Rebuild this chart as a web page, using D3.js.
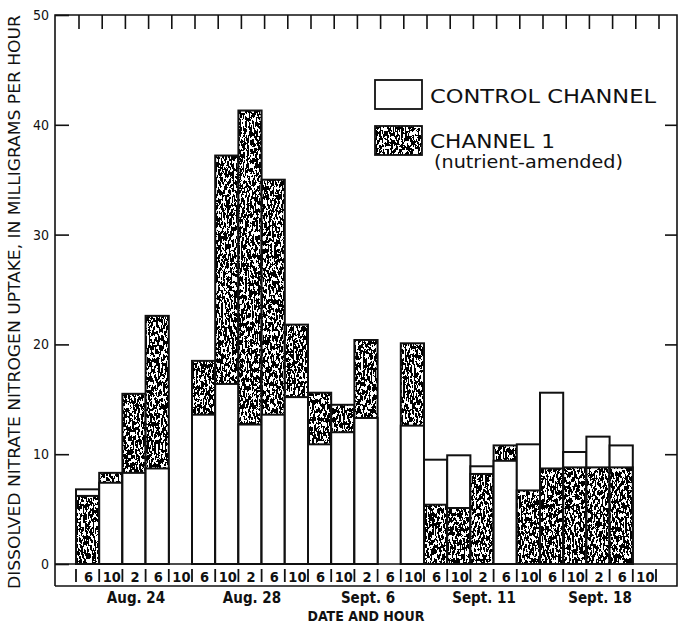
<!DOCTYPE html>
<html>
<head>
<meta charset="utf-8">
<script src="https://cdn.jsdelivr.net/npm/d3@7"></script>
<style>
  html, body { margin: 0; padding: 0; background: #fff; }
  svg { display: block; }
  .cond { font-family: 'Liberation Sans Narrow', 'DejaVu Sans Condensed', 'Arial Narrow', sans-serif; }
  .leg { font-family: 'DejaVu Sans', 'Noto Sans', sans-serif; }
</style>
</head>
<body>
<svg id="chart" width="684" height="629"></svg>
<script>
// Sampling slots: five per date (6 a.m., 10 a.m., 2 p.m., 6 p.m., 10 p.m.)
const hourLabels = ["6","10","2","6","10", "6","10","2","6","10", "6","10","2","6","10",
                    "6","10","2","6","10", "6","10","2","6","10"];
const dateLabels = ["Aug. 24", "Aug. 28", "Sept. 6", "Sept. 11", "Sept. 18"];
// Dissolved nitrate nitrogen uptake, mg/h (null = no sample)
const controlChannel = [6.8, 7.4, 8.3, 8.7, null,
                        13.6, 16.4, 12.7, 13.6, 15.2,
                        10.9, 12.0, 13.3, null, 12.6,
                        9.5, 9.9, 8.9, 9.4, 10.9,
                        15.6, 10.2, 11.6, 10.8, null];
const channel1 =       [6.2, 8.3, 15.5, 22.6, null,
                        18.5, 37.2, 41.3, 35.0, 21.8,
                        15.6, 14.5, 20.4, null, 20.1,
                        5.4, 5.1, 8.2, 10.8, 6.7,
                        8.7, 8.8, 8.8, 8.8, null];
const yTicks = [0, 10, 20, 30, 40, 50];

const svg = d3.select("#chart");
const frame = { left: 55, right: 677, top: 15, base: 564, bottom: 586 };

const x = d3.scaleBand().domain(d3.range(hourLabels.length)).range([76, 656]).padding(0);
const y = d3.scaleLinear().domain([0, 50]).range([frame.base, frame.top]);

// Stipple texture for the nutrient-amended channel
const defs = svg.append("defs");
const f = defs.append("filter").attr("id", "grain")
  .attr("x", 0).attr("y", 0).attr("width", 1).attr("height", 1)
  .attr("color-interpolation-filters", "sRGB");
f.append("feTurbulence").attr("type", "fractalNoise").attr("baseFrequency", "0.55 0.22")
  .attr("numOctaves", 3).attr("seed", 11).attr("result", "noise");
f.append("feColorMatrix").attr("in", "noise").attr("type", "matrix")
  .attr("values", "0 0 0 0 0  0 0 0 0 0  0 0 0 0 0  4 0 0 0 -1.42").attr("result", "a");
f.append("feComponentTransfer").attr("in", "a").attr("result", "mask")
  .append("feFuncA").attr("type", "discrete").attr("tableValues", "0 1");
f.append("feComposite").attr("in", "mask").attr("in2", "SourceGraphic").attr("operator", "in");

function drawBar(g, x0, w, v, stippled) {
  const top = y(v), h = frame.base - top;
  g.append("rect").attr("x", x0).attr("y", top).attr("width", w).attr("height", h)
    .attr("fill", "#fff");
  if (stippled) {
    g.append("rect").attr("x", x0).attr("y", top).attr("width", w).attr("height", h)
      .attr("fill", "#111").attr("filter", "url(#grain)");
  }
  g.append("rect").attr("x", x0).attr("y", top).attr("width", w).attr("height", h)
    .attr("fill", "none").attr("stroke", "#111").attr("stroke-width", 2);
}

// Bars: the taller series is drawn behind, the shorter one in front
const bars = svg.append("g");
hourLabels.forEach((_, i) => {
  const c = controlChannel[i], n = channel1[i];
  if (c == null && n == null) return;
  const g = bars.append("g");
  const pair = [{ v: c, s: false }, { v: n, s: true }].filter(d => d.v != null)
    .sort((a, b) => b.v - a.v);
  pair.forEach(d => drawBar(g, x(i), x.bandwidth(), d.v, d.s));
});

// Frame
const lines = svg.append("g").attr("stroke", "#111").attr("stroke-width", 1.6).attr("fill", "none");
lines.append("path").attr("d",
  `M${frame.left},${frame.bottom}V${frame.top}H${frame.right}V${frame.bottom}H${frame.left}`);
lines.append("line").attr("x1", frame.left).attr("x2", frame.right)
  .attr("y1", frame.base).attr("y2", frame.base);

// Left value axis
const yAxis = svg.append("g").attr("class", "cond")
  .attr("transform", `translate(${frame.left},0)`)
  .call(d3.axisLeft(y).tickValues(yTicks).tickSize(-14).tickPadding(6).tickFormat(d3.format("d")));
yAxis.select(".domain").remove();
yAxis.selectAll(".tick line").attr("stroke", "#111").attr("stroke-width", 1.6);
yAxis.selectAll(".tick text").attr("font-size", 14).attr("fill", "#111")
  .attr("font-family", "'Liberation Sans Narrow', 'DejaVu Sans Condensed', sans-serif");

// Right inward ticks
const yAxisR = svg.append("g")
  .attr("transform", `translate(${frame.right},0)`)
  .call(d3.axisRight(y).tickValues(yTicks.slice(1, -1)).tickSize(-12).tickFormat(""));
yAxisR.select(".domain").remove();
yAxisR.selectAll(".tick line").attr("stroke", "#111").attr("stroke-width", 1.6);

// Top inward ticks at slot boundaries
const bounds = d3.range(hourLabels.length + 1).map(i => x.range()[0] + i * x.step());
svg.append("g").selectAll("line").data(bounds).join("line")
  .attr("x1", d => d + 3).attr("x2", d => d + 3)
  .attr("y1", frame.top).attr("y2", frame.top + 14)
  .attr("stroke", "#111").attr("stroke-width", 1.6);

// Hour row: separators and labels
svg.append("g").selectAll("line").data(bounds).join("line")
  .attr("x1", d => d).attr("x2", d => d)
  .attr("y1", frame.base + 5).attr("y2", frame.base + 18)
  .attr("stroke", "#111").attr("stroke-width", 1.8);
svg.append("g").attr("class", "cond").selectAll("text").data(hourLabels).join("text")
  .attr("x", (d, i) => x(i) + x.bandwidth() / 2 + 1)
  .attr("y", 582)
  .attr("text-anchor", "middle").attr("font-size", 14.5).attr("font-weight", "bold")
  .attr("fill", "#111").text(d => d);

// Date labels, centred on the 2 p.m. slot of each group
svg.append("g").attr("class", "cond").selectAll("text").data(dateLabels).join("text")
  .attr("x", (d, i) => x(i * 5 + 2) + x.bandwidth() / 2 + 2)
  .attr("y", 603)
  .attr("text-anchor", "middle").attr("font-size", 15).attr("font-weight", "bold")
  .attr("fill", "#111").text(d => d);

// Axis titles
svg.append("text").attr("class", "cond")
  .attr("x", 366).attr("y", 621).attr("text-anchor", "middle")
  .attr("font-size", 14).attr("font-weight", "bold").attr("fill", "#111")
  .attr("textLength", 117).attr("lengthAdjust", "spacingAndGlyphs")
  .text("DATE AND HOUR");
svg.append("text").attr("class", "cond")
  .attr("transform", "translate(20,302) rotate(-90)")
  .attr("text-anchor", "middle").attr("font-size", 15).attr("fill", "#111")
  .attr("textLength", 574).attr("lengthAdjust", "spacingAndGlyphs")
  .text("DISSOLVED NITRATE NITROGEN UPTAKE, IN MILLIGRAMS PER HOUR");

// Legend
const leg = svg.append("g");
drawLegendBox(leg, 375, 80, false);
drawLegendBox(leg, 375, 126, true);
function drawLegendBox(g, lx, ly, stippled) {
  g.append("rect").attr("x", lx).attr("y", ly).attr("width", 47).attr("height", 29).attr("fill", "#fff");
  if (stippled) g.append("rect").attr("x", lx).attr("y", ly).attr("width", 47).attr("height", 29)
    .attr("fill", "#111").attr("filter", "url(#grain)");
  g.append("rect").attr("x", lx).attr("y", ly).attr("width", 47).attr("height", 29)
    .attr("fill", "none").attr("stroke", "#111").attr("stroke-width", 1.8);
}
leg.append("text").attr("class", "leg").attr("x", 430).attr("y", 103)
  .attr("font-size", 20).attr("fill", "#111")
  .attr("textLength", 226).attr("lengthAdjust", "spacingAndGlyphs").text("CONTROL CHANNEL");
leg.append("text").attr("class", "leg").attr("x", 430).attr("y", 148)
  .attr("font-size", 20).attr("fill", "#111")
  .attr("textLength", 125).attr("lengthAdjust", "spacingAndGlyphs").text("CHANNEL 1");
leg.append("text").attr("class", "leg").attr("x", 434).attr("y", 168)
  .attr("font-size", 17).attr("fill", "#111")
  .attr("textLength", 189).attr("lengthAdjust", "spacingAndGlyphs").text("(nutrient-amended)");
</script>
</body>
</html>
